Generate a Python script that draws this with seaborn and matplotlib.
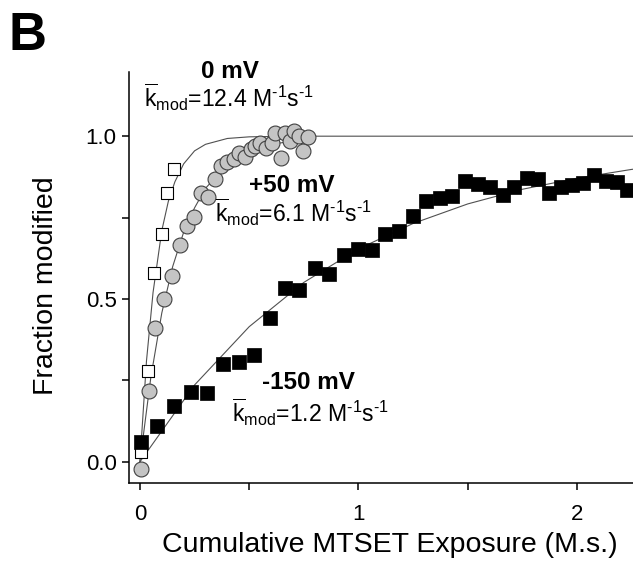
import numpy as np
import pandas as pd
import matplotlib
matplotlib.use("Agg")
import matplotlib.pyplot as plt
import seaborn as sns

# 0 mV (open squares)
x_0mv = [0.005, 0.035, 0.065, 0.099, 0.126, 0.156]
y_0mv = [0.03, 0.28, 0.58, 0.70, 0.826, 0.898]

# +50 mV (grey circles)
x_50mv = [0.005, 0.042, 0.070, 0.111, 0.146, 0.184, 0.217, 0.247, 0.278, 0.311,
          0.343, 0.369, 0.400, 0.430, 0.452, 0.483, 0.506, 0.528, 0.551, 0.577,
          0.605, 0.620, 0.647, 0.662, 0.685, 0.703, 0.726, 0.746, 0.767]
y_50mv = [-0.023, 0.216, 0.41, 0.50, 0.571, 0.667, 0.723, 0.751, 0.826, 0.814,
          0.869, 0.908, 0.921, 0.931, 0.947, 0.937, 0.96, 0.97, 0.98, 0.963,
          0.98, 1.011, 0.934, 1.011, 0.986, 1.016, 1.001, 0.955, 0.999]

# -150 mV (black squares)
x_150mv = [0.005, 0.080, 0.156, 0.232, 0.305, 0.380, 0.452, 0.524, 0.594, 0.664,
           0.729, 0.801, 0.865, 0.935, 0.996, 1.060, 1.121, 1.187, 1.248, 1.309,
           1.375, 1.430, 1.487, 1.546, 1.602, 1.659, 1.712, 1.770, 1.820, 1.873,
           1.927, 1.979, 2.029, 2.079, 2.131, 2.182, 2.227]
y_150mv = [0.061, 0.109, 0.17, 0.214, 0.212, 0.30, 0.306, 0.327, 0.443, 0.533,
           0.527, 0.594, 0.577, 0.635, 0.655, 0.650, 0.699, 0.710, 0.755, 0.801,
           0.810, 0.817, 0.862, 0.853, 0.845, 0.819, 0.845, 0.871, 0.868, 0.825,
           0.845, 0.850, 0.857, 0.881, 0.863, 0.860, 0.835]

# fitted curves (vertices)
fit0_x = [0, 0.03, 0.06, 0.10, 0.13, 0.16, 0.20, 0.25, 0.30, 0.40, 0.50, 0.70, 2.30]
fit0_y = [0, 0.31, 0.52, 0.71, 0.80, 0.86, 0.915, 0.955, 0.975, 0.993, 0.998, 1.0, 1.0]
fit50_x = [0, 0.05, 0.10, 0.15, 0.20, 0.25, 0.30, 0.40, 0.50, 0.60, 0.70, 0.80]
fit50_y = [0, 0.26, 0.457, 0.60, 0.705, 0.78, 0.84, 0.913, 0.953, 0.974, 0.986, 0.992]
fit150_x = [0, 0.25, 0.50, 0.75, 1.00, 1.25, 1.50, 1.75, 2.00, 2.25, 2.30]
fit150_y = [0, 0.236, 0.415, 0.551, 0.654, 0.732, 0.792, 0.837, 0.871, 0.898, 0.902]

sns.set_style("ticks")
plt.rcParams["font.family"] = ["Liberation Sans", "DejaVu Sans"]
plt.rcParams["mathtext.fontset"] = "custom"
plt.rcParams["mathtext.rm"] = "Liberation Sans"
plt.rcParams["mathtext.it"] = "Liberation Sans:italic"
plt.rcParams["mathtext.bf"] = "Liberation Sans:bold"
plt.rcParams["text.color"] = "black"
plt.rcParams["axes.labelcolor"] = "black"
plt.rcParams["xtick.color"] = "black"
plt.rcParams["ytick.color"] = "black"

fig = plt.figure(figsize=(6.33, 5.76), dpi=100)
ax = fig.add_axes([0.2038, 0.1615, 0.7962, 0.714])

line_kw = dict(color="#505050", linewidth=0.8, sort=False, estimator=None, zorder=1)
sns.lineplot(x=fit0_x, y=fit0_y, ax=ax, **line_kw)
sns.lineplot(x=fit50_x, y=fit50_y, ax=ax, **line_kw)
sns.lineplot(x=fit150_x, y=fit150_y, ax=ax, **line_kw)

sns.scatterplot(x=x_0mv, y=y_0mv, ax=ax, marker="s", s=80, color="white",
                edgecolor="black", linewidth=0.8, zorder=2)
sns.scatterplot(x=x_50mv, y=y_50mv, ax=ax, marker="o", s=115, color="#c4c4c4",
                edgecolor="#404040", linewidth=0.8, zorder=3)
sns.scatterplot(x=x_150mv, y=y_150mv, ax=ax, marker="s", s=95, color="black",
                edgecolor="black", linewidth=0.5, zorder=4)

ax.set_xlim(-0.05, 2.256)
ax.set_ylim(-0.065, 1.198)
ax.set_xticks([0, 1, 2])
ax.set_xticklabels(["0", "1", "2"])
ax.set_xticks([0.5, 1.5], minor=True)
ax.set_yticks([0.0, 0.5, 1.0])
ax.set_yticklabels(["0.0", "0.5", "1.0"])
ax.set_yticks([0.25, 0.75], minor=True)
ax.tick_params(which="both", direction="out", length=5, width=1.1, labelsize=16,
               color="black", labelcolor="black")
ax.tick_params(axis="x", pad=10)
ax.tick_params(axis="y", pad=4)
sns.despine(ax=ax)
for sp in ["left", "bottom"]:
    ax.spines[sp].set_linewidth(1.1)
    ax.spines[sp].set_color("black")

ax.set_xlabel("Cumulative MTSET Exposure (M.s.)", fontsize=20.5, color="black")
ax.set_ylabel("Fraction modified", fontsize=20.5, color="black")
ax.xaxis.set_label_coords(0.518, -0.12)
ax.yaxis.set_label_coords(-0.139, 0.479)

kmod = r"$\overline{\mathrm{k}}_{\mathrm{mod}}$"
unit = r" M$^{\text{-1}}$s$^{\text{-1}}$"
ax.text(0.41, 1.179, "0 mV", fontsize=17.5, fontweight="bold", ha="center",
        va="baseline", clip_on=False)
ax.text(0.02, 1.09, kmod + "=12.4" + unit, fontsize=16.6,
        va="baseline", clip_on=False)
ax.text(0.50, 0.849, "+50 mV", fontsize=17.5, fontweight="bold", va="center")
ax.text(0.343, 0.737, kmod + "=6.1" + unit, fontsize=16.6, va="baseline")
ax.text(0.56, 0.223, "-150 mV", fontsize=17.5, fontweight="bold", va="baseline")
ax.text(0.42, 0.123, kmod + "=1.2" + unit, fontsize=16.6, va="baseline")

fig.text(0.013, 0.894, "B", fontsize=38, fontweight="bold", va="bottom")

fig.savefig("out.png", dpi=100)
